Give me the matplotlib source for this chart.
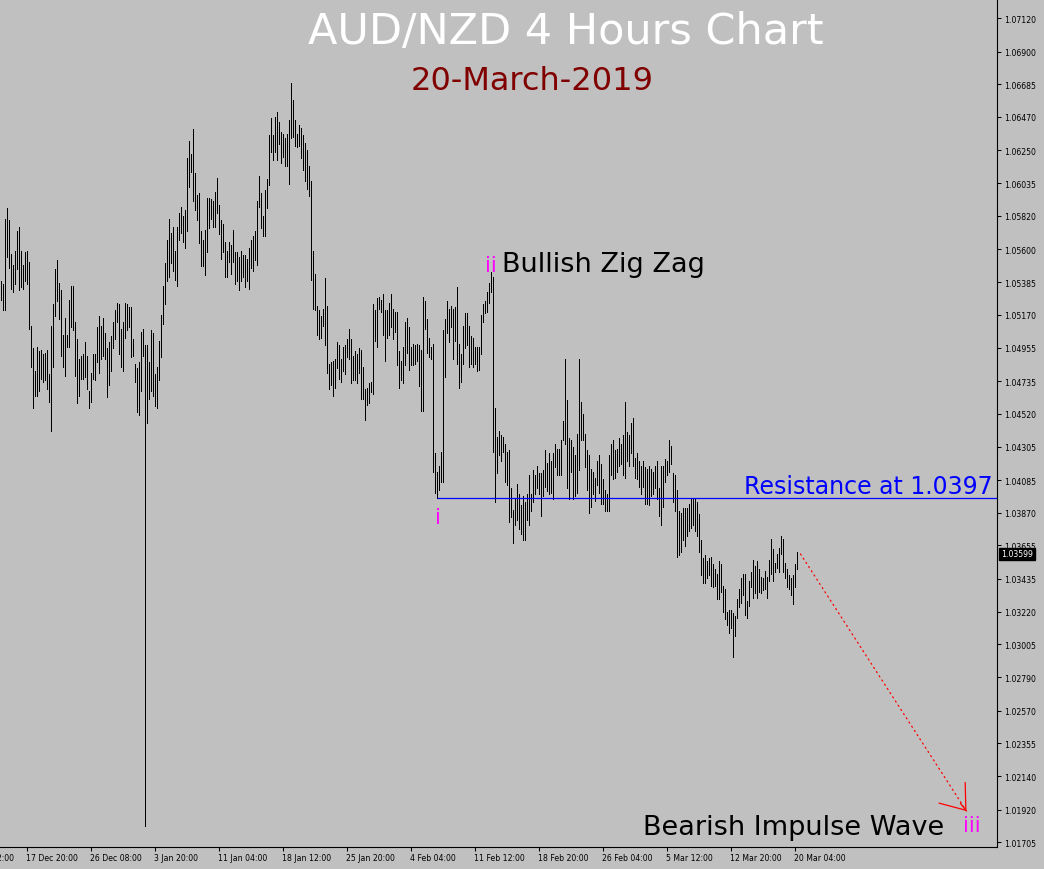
import matplotlib
matplotlib.use("Agg")
import matplotlib.pyplot as plt
import numpy as np

BG = "#c0c0c0"

# AUD/NZD 4h bars, high / low (left to right)
highs = [
    1.0539, 1.0537, 1.0580, 1.0587, 1.0579, 1.0557, 1.0550, 1.0559, 1.0572, 1.0575,
    1.0559, 1.0550, 1.0558, 1.0559, 1.0552, 1.0510, 1.0495, 1.0480, 1.0496, 1.0493,
    1.0494, 1.0491, 1.0492, 1.0494, 1.0478, 1.0510, 1.0524, 1.0547, 1.0553, 1.0538,
    1.0533, 1.0504, 1.0515, 1.0504, 1.0527, 1.0536, 1.0536, 1.0512, 1.0501, 1.0488,
    1.0490, 1.0491, 1.0499, 1.0490, 1.0467, 1.0479, 1.0491, 1.0491, 1.0509, 1.0516,
    1.0510, 1.0515, 1.0505, 1.0495, 1.0499, 1.0503, 1.0512, 1.0520, 1.0525, 1.0524,
    1.0508, 1.0512, 1.0525, 1.0524, 1.0522, 1.0522, 1.0501, 1.0485, 1.0482, 1.0486,
    1.0506, 1.0508, 1.0497, 1.0497, 1.0486, 1.0507, 1.0505, 1.0478, 1.0483, 1.0500,
    1.0517, 1.0536, 1.0551, 1.0566, 1.0580, 1.0571, 1.0575, 1.0559, 1.0575, 1.0584,
    1.0588, 1.0582, 1.0586, 1.0620, 1.0631, 1.0623, 1.0639, 1.0610, 1.0596, 1.0597,
    1.0572, 1.0566, 1.0573, 1.0594, 1.0594, 1.0593, 1.0592, 1.0598, 1.0607, 1.0589,
    1.0579, 1.0577, 1.0565, 1.0559, 1.0565, 1.0563, 1.0573, 1.0558, 1.0558, 1.0555,
    1.0559, 1.0556, 1.0556, 1.0554, 1.0561, 1.0566, 1.0569, 1.0572, 1.0592, 1.0608,
    1.0597, 1.0582, 1.0599, 1.0606, 1.0635, 1.0646, 1.0635, 1.0647, 1.0650, 1.0644,
    1.0637, 1.0636, 1.0633, 1.0636, 1.0645, 1.0669, 1.0658, 1.0645, 1.0636, 1.0642,
    1.0640, 1.0635, 1.0630, 1.0625, 1.0615, 1.0605, 1.0559, 1.0544, 1.0523, 1.0520,
    1.0516, 1.0521, 1.0541, 1.0523, 1.0485, 1.0486, 1.0487, 1.0488, 1.0499, 1.0497,
    1.0488, 1.0496, 1.0497, 1.0501, 1.0508, 1.0501, 1.0490, 1.0493, 1.0491, 1.0495,
    1.0494, 1.0483, 1.0468, 1.0469, 1.0472, 1.0473, 1.0524, 1.0520, 1.0528, 1.0529,
    1.0527, 1.0531, 1.0520, 1.0520, 1.0525, 1.0531, 1.0521, 1.0519, 1.0519, 1.0493,
    1.0487, 1.0496, 1.0512, 1.0515, 1.0509, 1.0496, 1.0498, 1.0497, 1.0498, 1.0497,
    1.0494, 1.0529, 1.0526, 1.0514, 1.0502, 1.0496, 1.0498, 1.0426, 1.0414, 1.0418,
    1.0427, 1.0507, 1.0514, 1.0526, 1.0521, 1.0523, 1.0521, 1.0522, 1.0535, 1.0498,
    1.0491, 1.0510, 1.0518, 1.0518, 1.0510, 1.0503, 1.0502, 1.0496, 1.0496, 1.0496,
    1.0517, 1.0524, 1.0526, 1.0532, 1.0538, 1.0545, 1.0542, 1.0456, 1.0437, 1.0441,
    1.0438, 1.0437, 1.0432, 1.0427, 1.0428, 1.0403, 1.0389, 1.0396, 1.0406, 1.0399,
    1.0392, 1.0398, 1.0394, 1.0399, 1.0412, 1.0399, 1.0415, 1.0412, 1.0418, 1.0413,
    1.0413, 1.0415, 1.0428, 1.0420, 1.0426, 1.0421, 1.0426, 1.0432, 1.0429, 1.0429,
    1.0435, 1.0447, 1.0488, 1.0461, 1.0436, 1.0435, 1.0430, 1.0425, 1.0439, 1.0488,
    1.0460, 1.0452, 1.0439, 1.0428, 1.0425, 1.0416, 1.0414, 1.0410, 1.0421, 1.0425,
    1.0419, 1.0409, 1.0402, 1.0399, 1.0425, 1.0432, 1.0435, 1.0428, 1.0429, 1.0436,
    1.0432, 1.0438, 1.0460, 1.0440, 1.0438, 1.0446, 1.0449, 1.0423, 1.0426, 1.0421,
    1.0418, 1.0421, 1.0417, 1.0416, 1.0418, 1.0416, 1.0414, 1.0418, 1.0421, 1.0403,
    1.0418, 1.0418, 1.0422, 1.0421, 1.0435, 1.0431, 1.0413, 1.0412, 1.0402, 1.0388,
    1.0387, 1.0390, 1.0390, 1.0390, 1.0393, 1.0396, 1.0396, 1.0397, 1.0394, 1.0386,
    1.0369, 1.0357, 1.0359, 1.0355, 1.0357, 1.0358, 1.0353, 1.0350, 1.0347, 1.0355,
    1.0353, 1.0339, 1.0337, 1.0322, 1.0323, 1.0323, 1.0321, 1.0319, 1.0330, 1.0337,
    1.0344, 1.0347, 1.0347, 1.0329, 1.0342, 1.0348, 1.0356, 1.0352, 1.0355, 1.0350,
    1.0345, 1.0344, 1.0349, 1.0345, 1.0356, 1.0370, 1.0363, 1.0354, 1.0360, 1.0364,
    1.0372, 1.0370, 1.0354, 1.0350, 1.0346, 1.0344, 1.0346, 1.0353, 1.0361,
]
lows = [
    1.0527, 1.0520, 1.0520, 1.0555, 1.0548, 1.0534, 1.0532, 1.0537, 1.0547, 1.0533,
    1.0535, 1.0534, 1.0539, 1.0537, 1.0508, 1.0483, 1.0456, 1.0464, 1.0464, 1.0467,
    1.0475, 1.0473, 1.0474, 1.0468, 1.0460, 1.0441, 1.0483, 1.0516, 1.0526, 1.0514,
    1.0490, 1.0483, 1.0477, 1.0496, 1.0496, 1.0509, 1.0507, 1.0477, 1.0459, 1.0464,
    1.0475, 1.0475, 1.0476, 1.0468, 1.0456, 1.0460, 1.0475, 1.0474, 1.0486, 1.0479,
    1.0488, 1.0490, 1.0488, 1.0463, 1.0471, 1.0480, 1.0495, 1.0501, 1.0512, 1.0491,
    1.0483, 1.0480, 1.0502, 1.0507, 1.0509, 1.0489, 1.0490, 1.0473, 1.0453, 1.0451,
    1.0467, 1.0490, 1.0181, 1.0446, 1.0462, 1.0467, 1.0464, 1.0457, 1.0456, 1.0474,
    1.0489, 1.0511, 1.0524, 1.0539, 1.0542, 1.0551, 1.0546, 1.0540, 1.0536, 1.0566,
    1.0571, 1.0565, 1.0561, 1.0572, 1.0601, 1.0611, 1.0592, 1.0586, 1.0579, 1.0564,
    1.0549, 1.0549, 1.0543, 1.0558, 1.0574, 1.0580, 1.0575, 1.0575, 1.0584, 1.0570,
    1.0554, 1.0558, 1.0542, 1.0542, 1.0552, 1.0544, 1.0552, 1.0537, 1.0539, 1.0533,
    1.0539, 1.0542, 1.0535, 1.0539, 1.0534, 1.0548, 1.0546, 1.0553, 1.0550, 1.0588,
    1.0574, 1.0569, 1.0569, 1.0587, 1.0602, 1.0624, 1.0619, 1.0624, 1.0619, 1.0629,
    1.0617, 1.0621, 1.0615, 1.0615, 1.0603, 1.0633, 1.0634, 1.0628, 1.0627, 1.0628,
    1.0620, 1.0612, 1.0605, 1.0600, 1.0595, 1.0540, 1.0521, 1.0520, 1.0504, 1.0501,
    1.0502, 1.0510, 1.0497, 1.0479, 1.0468, 1.0471, 1.0464, 1.0469, 1.0482, 1.0475,
    1.0473, 1.0480, 1.0478, 1.0489, 1.0488, 1.0472, 1.0474, 1.0474, 1.0472, 1.0479,
    1.0462, 1.0462, 1.0448, 1.0458, 1.0459, 1.0466, 1.0465, 1.0500, 1.0496, 1.0521,
    1.0519, 1.0504, 1.0487, 1.0502, 1.0504, 1.0509, 1.0501, 1.0506, 1.0484, 1.0469,
    1.0474, 1.0472, 1.0484, 1.0492, 1.0481, 1.0484, 1.0484, 1.0485, 1.0487, 1.0470,
    1.0454, 1.0454, 1.0508, 1.0492, 1.0489, 1.0488, 1.0414, 1.0400, 1.0397, 1.0402,
    1.0407, 1.0407, 1.0476, 1.0505, 1.0499, 1.0509, 1.0488, 1.0500, 1.0485, 1.0469,
    1.0473, 1.0485, 1.0495, 1.0497, 1.0483, 1.0485, 1.0483, 1.0485, 1.0480, 1.0481,
    1.0491, 1.0512, 1.0518, 1.0519, 1.0525, 1.0532, 1.0427, 1.0394, 1.0413, 1.0425,
    1.0421, 1.0427, 1.0407, 1.0405, 1.0381, 1.0384, 1.0367, 1.0379, 1.0382, 1.0376,
    1.0373, 1.0369, 1.0369, 1.0382, 1.0379, 1.0388, 1.0394, 1.0399, 1.0403, 1.0399,
    1.0385, 1.0398, 1.0404, 1.0401, 1.0399, 1.0400, 1.0396, 1.0417, 1.0412, 1.0412,
    1.0412, 1.0435, 1.0432, 1.0403, 1.0396, 1.0414, 1.0396, 1.0398, 1.0400, 1.0415,
    1.0435, 1.0435, 1.0417, 1.0402, 1.0387, 1.0391, 1.0399, 1.0395, 1.0405, 1.0400,
    1.0393, 1.0393, 1.0388, 1.0388, 1.0388, 1.0412, 1.0409, 1.0410, 1.0414, 1.0418,
    1.0419, 1.0412, 1.0410, 1.0421, 1.0418, 1.0426, 1.0418, 1.0410, 1.0409, 1.0404,
    1.0399, 1.0404, 1.0393, 1.0393, 1.0392, 1.0398, 1.0399, 1.0403, 1.0396, 1.0385,
    1.0379, 1.0391, 1.0407, 1.0412, 1.0414, 1.0419, 1.0394, 1.0388, 1.0358, 1.0359,
    1.0361, 1.0369, 1.0365, 1.0372, 1.0375, 1.0377, 1.0379, 1.0375, 1.0372, 1.0361,
    1.0346, 1.0341, 1.0341, 1.0344, 1.0346, 1.0339, 1.0338, 1.0339, 1.0330, 1.0330,
    1.0335, 1.0322, 1.0317, 1.0313, 1.0308, 1.0311, 1.0292, 1.0306, 1.0318, 1.0325,
    1.0328, 1.0333, 1.0320, 1.0318, 1.0326, 1.0338, 1.0331, 1.0334, 1.0331, 1.0335,
    1.0334, 1.0336, 1.0337, 1.0331, 1.0342, 1.0347, 1.0342, 1.0348, 1.0351, 1.0348,
    1.0360, 1.0348, 1.0344, 1.0338, 1.0337, 1.0333, 1.0327, 1.0338, 1.0350,
]

last_price = 1.03599
resistance = 1.0397
wave_i_bar = 218
wave_ii_bar = 246
target_bar = 483
target_price = 1.0191

date_labels = ["10 Dec 12:00", "17 Dec 20:00", "26 Dec 08:00", "3 Jan 20:00",
               "11 Jan 04:00", "18 Jan 12:00", "25 Jan 20:00", "4 Feb 04:00",
               "11 Feb 12:00", "18 Feb 20:00", "26 Feb 04:00", "5 Mar 12:00",
               "12 Mar 20:00", "20 Mar 04:00"]
date_bars = [-19 + 32 * k for k in range(len(date_labels))]

price_ticks = [1.07120, 1.06900, 1.06685, 1.06470, 1.06250, 1.06035, 1.05820,
               1.05600, 1.05385, 1.05170, 1.04955, 1.04735, 1.04520, 1.04305,
               1.04085, 1.03870, 1.03655, 1.03435, 1.03220, 1.03005, 1.02790,
               1.02570, 1.02355, 1.02140, 1.01920, 1.01705]

fig = plt.figure(figsize=(10.44, 8.7), dpi=100, facecolor=BG)
ax = fig.add_axes([0, 22 / 870, 997 / 1044, 848 / 870], facecolor=BG)

# 2 px per bar, each bar one pixel wide
idx = np.arange(len(highs))
ax.vlines(idx, lows, highs, colors="black", linewidth=0.6, antialiased=False)

ax.set_xlim(-0.25, 498.25)
ax.set_ylim(1.01674, 1.07245)

# axes look of the terminal
for side in ["left", "top"]:
    ax.spines[side].set_visible(False)
for side in ["right", "bottom"]:
    ax.spines[side].set_linewidth(0.8)
    ax.spines[side].set_color("black")

ax.yaxis.tick_right()
ax.set_yticks(price_ticks)
ax.set_yticklabels([f"{v:.5f}" for v in price_ticks])
ax.tick_params(axis="y", direction="out", length=3, width=0.75, pad=2, labelsize=5.6)

ax.set_xticks(date_bars[1:])
ax.set_xticklabels(date_labels[1:])
ax.tick_params(axis="x", direction="out", length=3, width=0.75, pad=1.5, labelsize=5.6)
for lab in ax.get_xticklabels():
    lab.set_ha("left")
ax.annotate(date_labels[0], xy=(date_bars[0], 0), xycoords=("data", "axes fraction"),
            xytext=(0, -4.5), textcoords="offset points", ha="left", va="top",
            fontsize=5.6, annotation_clip=False)

# current price box
ax.annotate(f"{last_price:.5f}", xy=(1, last_price), xycoords=("axes fraction", "data"),
            xytext=(3, 0), textcoords="offset points", ha="left", va="center",
            fontsize=5.6, color="white", annotation_clip=False,
            bbox=dict(boxstyle="square,pad=0.25", fc="black", ec="black"))

# resistance line
ax.hlines(resistance, wave_i_bar, 498.25, colors="#0000ff", linewidth=0.9)
ax.annotate(f"Resistance at {resistance}", xy=(498.25, resistance), xytext=(-4, 0),
            textcoords="offset pixels", ha="right", va="bottom", fontsize=17, color="#0000ff")

# wave labels
ax.annotate("i", xy=(wave_i_bar, lows[wave_i_bar]), xytext=(1, -19), textcoords="offset pixels",
            ha="center", va="center", fontsize=15.5, color="#ff00ff")
ax.annotate("ii", xy=(wave_ii_bar, highs[wave_ii_bar]), xytext=(-2, 12), textcoords="offset pixels",
            ha="center", va="center", fontsize=15.5, color="#ff00ff")
ax.annotate("Bullish Zig Zag", xy=(wave_ii_bar, highs[wave_ii_bar]), xytext=(10, 13),
            textcoords="offset pixels", ha="left", va="center", fontsize=19.5, color="black")

# projected wave iii
start = (len(highs) + 1, last_price)
tip = (target_bar, target_price)
ax.annotate("", xy=tip, xytext=start,
            arrowprops=dict(arrowstyle="-", color="red", lw=0.9, linestyle=(0, (1, 3)),
                            shrinkA=0, shrinkB=0))
ax.annotate("", xy=tip, xytext=(target_bar - 3, target_price + 0.0005),
            arrowprops=dict(arrowstyle="->,head_length=1.6,head_width=1.2", color="red", lw=0.9,
                            shrinkA=0, shrinkB=0, mutation_scale=10))
ax.annotate("iii", xy=tip, xytext=(5, -14), textcoords="offset pixels",
            ha="center", va="center", fontsize=15.5, color="#ff00ff", annotation_clip=False)
ax.annotate("Bearish Impulse Wave", xy=tip, xytext=(-22, -16), textcoords="offset pixels",
            ha="right", va="center", fontsize=19.5, color="black", annotation_clip=False)

# titles
fig.text(566 / 1044, 1 - 32 / 870, "AUD/NZD 4 Hours Chart", ha="center", va="center",
         fontsize=31, color="white")
fig.text(532 / 1044, 1 - 82 / 870, "20-March-2019", ha="center", va="center",
         fontsize=23, color="#800000")

fig.savefig("out.png", dpi=100, facecolor=BG)
